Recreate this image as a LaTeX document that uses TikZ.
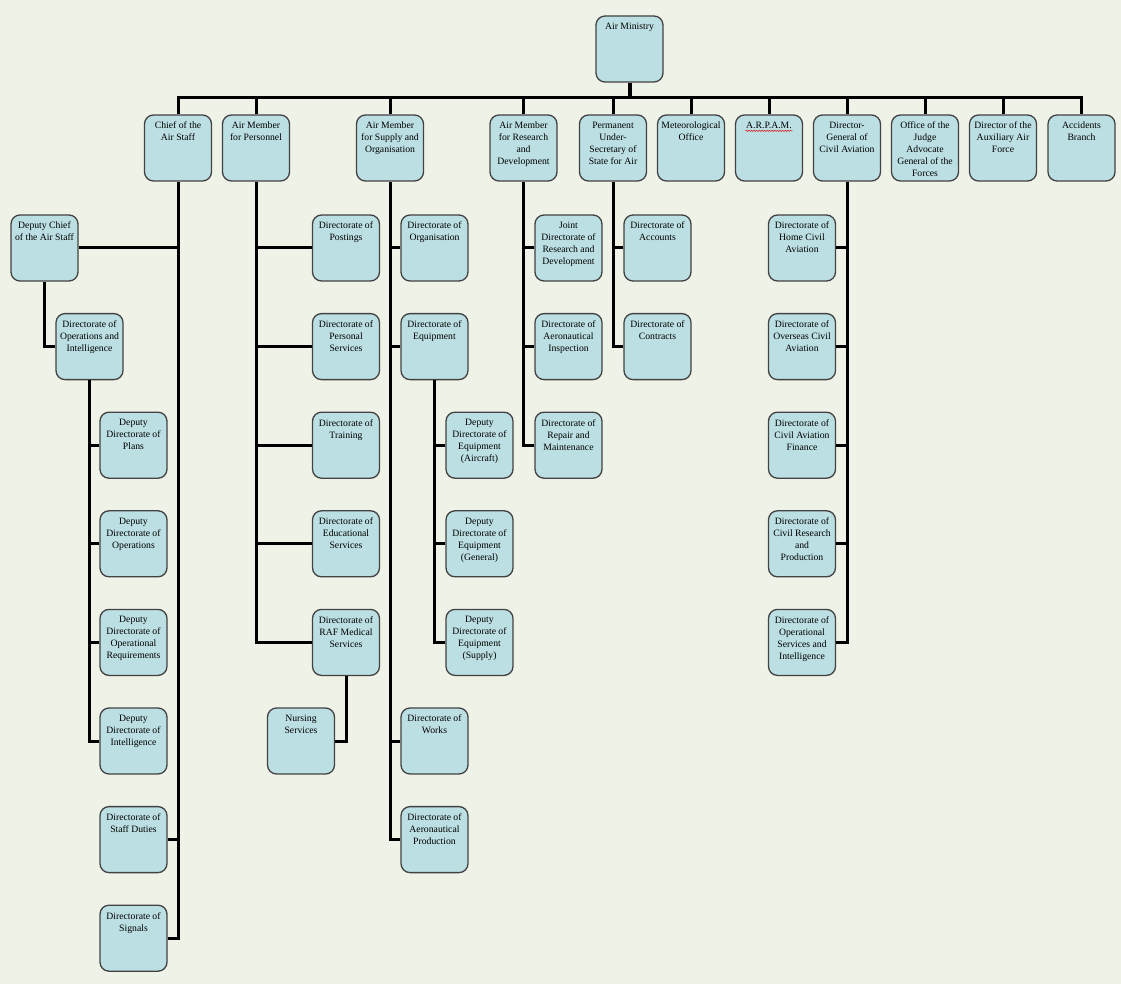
\documentclass[tikz,border=0pt]{standalone}
\usepackage{fontspec}
\setmainfont{Liberation Serif}
\usetikzlibrary{positioning,calc,decorations.pathmorphing}
\definecolor{paper}{RGB}{238,242,231}
\definecolor{boxfill}{RGB}{188,223,227}
\definecolor{boxline}{RGB}{66,66,66}
\definecolor{spellred}{RGB}{215,35,35}

\begin{document}
\begin{tikzpicture}[x=1pt, y=-1pt,
            node distance=31.3pt,
            orgbox/.style={rectangle, rounded corners=9pt, minimum width=67pt, minimum height=66pt, inner xsep=1.5pt, inner ysep=7pt, draw=boxline, line width=1.3pt, fill=boxfill, font=\fontsize{9.7}{12}\selectfont,
                execute at begin node={\begin{minipage}[t][52pt][t]{64pt}\centering}, execute at end node={\end{minipage}}},
            link/.style={line width=3pt, black}
        ]
        
        \fill[paper] (0,0) rectangle (1121,984);
        \useasboundingbox (0,0) rectangle (1121,984);
        
        \node[orgbox] (am) at (629.5,49) {Air Ministry};
        
        % first row
        \node[orgbox] (cas) at (178,148) {Chief of the\\Air Staff};
        \node[orgbox] (amp) at (256,148) {Air Member\\for Personnel};
        \node[orgbox] (amso) at (390,148) {Air Member\\for Supply and\\Organisation};
        \node[orgbox] (amrd) at (523.5,148) {Air Member\\for Research\\and\\Development};
        \node[orgbox] (pus) at (613,148) {Permanent\\Under-\\Secretary of\\State for Air};
        \node[orgbox] (met) at (691,148) {Meteorological\\Office};
        \node[orgbox] (arpam) at (769,148) {A.R.P.A.M.};
        \node[orgbox] (dgca) at (847,148) {Director-\\General of\\Civil Aviation};
        \node[orgbox] (jag) at (925,148) {Office of the\\Judge\\Advocate\\General of the\\Forces};
        \node[orgbox] (daaf) at (1003,148) {Director of the\\Auxiliary Air\\Force};
        \node[orgbox] (acc) at (1081.5,148) {Accidents\\Branch};
        
        % chief of the air staff
        \node[orgbox] (dcas) at (44.5,248) {Deputy Chief\\of the Air Staff};
        \node[orgbox, below=of dcas, xshift=45pt] (doi) {Directorate of\\Operations and\\Intelligence};
        \node[orgbox, below=of doi, xshift=44pt] (ddp) {Deputy\\Directorate of\\Plans};
        \node[orgbox, below=of ddp] (ddo) {Deputy\\Directorate of\\Operations};
        \node[orgbox, below=of ddo] (ddor) {Deputy\\Directorate of\\Operational\\Requirements};
        \node[orgbox, below=of ddor] (ddi) {Deputy\\Directorate of\\Intelligence};
        \node[orgbox, below=of ddi] (dsd) {Directorate of\\Staff Duties};
        \node[orgbox, below=of dsd] (dsig) {Directorate of\\Signals};
        
        % personnel
        \node[orgbox] (dpost) at (346,248) {Directorate of\\Postings};
        \node[orgbox, below=of dpost] (dps) {Directorate of\\Personal\\Services};
        \node[orgbox, below=of dps] (dtr) {Directorate of\\Training};
        \node[orgbox, below=of dtr] (des) {Directorate of\\Educational\\Services};
        \node[orgbox, below=of des] (drms) {Directorate of\\RAF Medical\\Services};
        \node[orgbox, below=of drms, xshift=-45pt] (nurs) {Nursing\\Services};
        
        % supply and organisation
        \node[orgbox] (dorg) at (434.5,248) {Directorate of\\Organisation};
        \node[orgbox, below=of dorg] (deq) {Directorate of\\Equipment};
        \node[orgbox, below=of deq, xshift=45pt] (ddea) {Deputy\\Directorate of\\Equipment\\(Aircraft)};
        \node[orgbox, below=of ddea] (ddeg) {Deputy\\Directorate of\\Equipment\\(General)};
        \node[orgbox, below=of ddeg] (ddes) {Deputy\\Directorate of\\Equipment\\(Supply)};
        \node[orgbox] (dwk) at (434.5,741) {Directorate of\\Works};
        \node[orgbox, below=of dwk] (dap) {Directorate of\\Aeronautical\\Production};
        
        % research and development
        \node[orgbox] (jdrd) at (568.5,248) {Joint\\Directorate of\\Research and\\Development};
        \node[orgbox, below=of jdrd] (dai) {Directorate of\\Aeronautical\\Inspection};
        \node[orgbox, below=of dai] (drm) {Directorate of\\Repair and\\Maintenance};
        
        % under-secretary
        \node[orgbox] (dacc) at (657.5,248) {Directorate of\\Accounts};
        \node[orgbox, below=of dacc] (dcon) {Directorate of\\Contracts};
        
        % civil aviation
        \node[orgbox] (dhca) at (802,248) {Directorate of\\Home Civil\\Aviation};
        \node[orgbox, below=of dhca] (doca) {Directorate of\\Overseas Civil\\Aviation};
        \node[orgbox, below=of doca] (dcaf) {Directorate of\\Civil Aviation\\Finance};
        \node[orgbox, below=of dcaf] (dcrp) {Directorate of\\Civil Research\\and\\Production};
        \node[orgbox, below=of dcrp] (dosi) {Directorate of\\Operational\\Services and\\Intelligence};
        
        \draw[spellred, line width=0.6pt, decorate, decoration={snake, amplitude=0.6pt, segment length=2.6pt}] ($(arpam.north)+(-23.5,16.5)$) -- ($(arpam.north)+(23.5,16.5)$);
        
        % top bar
        \coordinate (bar) at (629.5,98);
        \draw[link, line width=4pt] (am.south) -- (bar);
        \draw[link] (cas.north) |- (bar);
        \draw[link] (amp.north) |- (bar);
        \draw[link] (amso.north) |- (bar);
        \draw[link] (amrd.north) |- (bar);
        \draw[link] (pus.north) |- (bar);
        \draw[link] (met.north) |- (bar);
        \draw[link] (arpam.north) |- (bar);
        \draw[link] (dgca.north) |- (bar);
        \draw[link] (jag.north) |- (bar);
        \draw[link] (daaf.north) |- (bar);
        \draw[link] (acc.north) |- (bar);
        
        \draw[link] (dcas.east) -| (cas.south);
        \draw[link] (dsd.east) -| (cas.south);
        \draw[link] (dsig.east) -| (cas.south);
        \draw[link] (doi.west) -| (dcas.south);
        \draw[link] (ddp.west) -| (doi.south);
        \draw[link] (ddo.west) -| (doi.south);
        \draw[link] (ddor.west) -| (doi.south);
        \draw[link] (ddi.west) -| (doi.south);
        
        \draw[link] (dpost.west) -| (amp.south);
        \draw[link] (dps.west) -| (amp.south);
        \draw[link] (dtr.west) -| (amp.south);
        \draw[link] (des.west) -| (amp.south);
        \draw[link] (drms.west) -| (amp.south);
        \draw[link] (nurs.east) -| (drms.south);
        
        \draw[link] (dorg.west) -| (amso.south);
        \draw[link] (deq.west) -| (amso.south);
        \draw[link] (dwk.west) -| (amso.south);
        \draw[link] (dap.west) -| (amso.south);
        \draw[link] (ddea.west) -| (deq.south);
        \draw[link] (ddeg.west) -| (deq.south);
        \draw[link] (ddes.west) -| (deq.south);
        
        \draw[link] (jdrd.west) -| (amrd.south);
        \draw[link] (dai.west) -| (amrd.south);
        \draw[link] (drm.west) -| (amrd.south);
        
        \draw[link] (dacc.west) -| (pus.south);
        \draw[link] (dcon.west) -| (pus.south);
        
        \draw[link] (dhca.east) -| (dgca.south);
        \draw[link] (doca.east) -| (dgca.south);
        \draw[link] (dcaf.east) -| (dgca.south);
        \draw[link] (dcrp.east) -| (dgca.south);
        \draw[link] (dosi.east) -| (dgca.south);
        
        \end{tikzpicture}
\end{document}
